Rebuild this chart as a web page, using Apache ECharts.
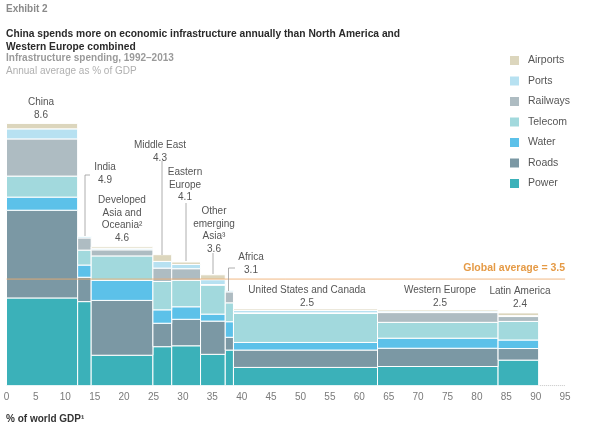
<!DOCTYPE html>
<html><head><meta charset="utf-8">
<script src="https://cdn.jsdelivr.net/npm/echarts@6/dist/echarts.min.js"></script>
<style>html,body{margin:0;padding:0;background:#fff}#c{width:600px;height:429px}</style>
</head><body><div id="c"></div>
<script>
// ---- data ----
const categories = ['China','India','Developed Asia and Oceania','Middle East','Eastern Europe','Other emerging Asia','Africa','United States and Canada','Western Europe','Latin America'];
const gdpShare = [12.1, 2.3, 10.5, 3.2, 4.9, 4.2, 1.4, 24.5, 20.5, 6.9];   // % of world GDP (bar widths)
const totals   = ['8.6','4.9','4.6','4.3','4.1','3.6','3.1','2.5','2.5','2.4'];
const sectors  = ['Power','Roads','Water','Telecom','Railways','Ports','Airports']; // bottom -> top
const power    = [2.88, 2.76, 1.00, 1.28, 1.31, 1.03, 1.17, 0.60, 0.63, 0.84];
const roads    = [2.88, 0.80, 1.80, 0.77, 0.87, 1.09, 0.42, 0.57, 0.60, 0.38];
const water    = [0.43, 0.40, 0.66, 0.44, 0.41, 0.23, 0.51, 0.25, 0.33, 0.28];
const telecom  = [0.69, 0.49, 0.80, 0.93, 0.87, 0.95, 0.62, 0.95, 0.52, 0.61];
const railways = [1.22, 0.40, 0.20, 0.44, 0.38, 0.02, 0.36, 0.02, 0.32, 0.16];
const ports    = [0.33, 0.05, 0.05, 0.22, 0.14, 0.16, 0.05, 0.08, 0.05, 0.03];
const airports = [0.18, 0.00, 0.05, 0.22, 0.08, 0.16, 0.00, 0.05, 0.05, 0.09];
const globalAverage = 3.5;
const xMax = 95, xStep = 5;

// ---- styles ----
const colors = {Power:'#3bb1b9', Roads:'#7b98a4', Water:'#5cc1e9', Telecom:'#a2d9dd', Railways:'#aebcc2', Ports:'#b7e1f1', Airports:'#dcd6bd'};
const FONT = 'Liberation Sans, Arial, sans-serif';
const values = {Power:power, Roads:roads, Water:water, Telecom:telecom, Railways:railways, Ports:ports, Airports:airports};

// cumulative x positions
const xStart = []; let acc = 0;
gdpShare.forEach(w => { xStart.push(acc); acc += w; });
const xEndAll = acc;

const base = categories.map(() => 0);
const series = sectors.map(s => {
  const data = categories.map((c, i) => {
    const y0 = base[i], y1 = y0 + values[s][i];
    base[i] = y1;
    return [xStart[i], xStart[i] + gdpShare[i], y0, y1, c];
  });
  return {
    name: s, type: 'custom', color: colors[s],
    encode: {x: [0, 1], y: [2, 3]},
    renderItem: (params, api) => {
      if (api.value(3) - api.value(2) <= 0) return null;
      const p0 = api.coord([api.value(0), api.value(3)]);
      const p1 = api.coord([api.value(1), api.value(2)]);
      return {type: 'rect', shape: {x: p0[0], y: p0[1], width: p1[0] - p0[0], height: p1[1] - p0[1]},
        style: {fill: colors[s], stroke: '#fff', lineWidth: 1}};
    },
    data
  };
});
// global average line
series.push({
  name: 'Global average', type: 'line', silent: true, z: 10, showSymbol: true, symbol: 'circle', symbolSize: 0,
  color: '#eeaa6c',
  lineStyle: {color: '#eeaa6c', width: 1, type: 'solid', opacity: 0.85},
  data: [[0, globalAverage], {value: [xMax, globalAverage],
    label: {show: true, position: 'top', align: 'right', distance: 5, formatter: 'Global average = ' + globalAverage,
      color: '#e59a45', fontSize: 10.5, fontWeight: 'bold', fontFamily: FONT}}]
});
// rest-of-world baseline stub
series.push({
  name: 'Rest', type: 'line', silent: true, z: 10, showSymbol: false, symbol: 'none',
  lineStyle: {color: '#bbb', width: 1, type: 'dotted'},
  data: [[xEndAll + 0.2, 0], [xMax, 0]]
});

// ---- annotations (text from arrays, layout in pixels) ----
const labelLayout = [
  {x: 41,  y: 96,  lines: ['China']},
  {x: 105, y: 161, lines: ['India']},
  {x: 122, y: 194, lines: ['Developed', 'Asia and', 'Oceania²']},
  {x: 160, y: 139, lines: ['Middle East']},
  {x: 185, y: 166, lines: ['Eastern', 'Europe']},
  {x: 214, y: 205, lines: ['Other', 'emerging', 'Asia³']},
  {x: 251, y: 251, lines: ['Africa']},
  {x: 307, y: 284, lines: ['United States and Canada']},
  {x: 440, y: 284, lines: ['Western Europe']},
  {x: 520, y: 285, lines: ['Latin America']}
];
const leaders = [
  [[90,175],[85,175],[85,236]],
  [[162,161],[162,255]],
  [[186,203],[186,261]],
  [[213,253],[213,274]],
  [[235,268],[228.5,268],[228.5,291]]
];
const graphics = [
  {type:'text', left: 6, top: 4, style:{text:'Exhibit 2', font:'bold 10px ' + FONT, fill:'#8a8a8a'}},
  {type:'text', left: 6, top: 28, style:{text:'China spends more on economic infrastructure annually than North America and\nWestern Europe combined', font:'bold 10.25px ' + FONT, fill:'#2a2a2a', lineHeight: 12.5}},
  {type:'text', left: 6, top: 53.5, style:{text:'Infrastructure spending, 1992–2013', font:'bold 10px ' + FONT, fill:'#9a9a9a'}},
  {type:'text', left: 6, top: 66, style:{text:'Annual average as % of GDP', font:'10px ' + FONT, fill:'#b0b0b0'}},
  {type:'text', left: 6, top: 414, style:{text:'% of world GDP¹', font:'bold 10px ' + FONT, fill:'#333'}}
];
labelLayout.forEach((l, i) => {
  graphics.push({type:'text', x: l.x, y: l.y, style:{text: l.lines.concat([totals[i]]).join('\n'),
    textAlign:'center', textVerticalAlign:'top', font:'10px ' + FONT, fill:'#555', lineHeight: 12.5}});
});
leaders.forEach(pts => graphics.push({type:'polyline', shape:{points: pts}, style:{stroke:'#999', lineWidth: 0.8, fill: null}, z: 20}));

const chart = echarts.init(document.getElementById('c'), null, {renderer: 'canvas'});
chart.setOption({
  animation: false,
  backgroundColor: '#fff',
  grid: {left: 6.5, right: 34.9, top: 111.5, bottom: 43.3},
  xAxis: {type: 'value', min: 0, max: xMax, interval: xStep,
    axisLine: {show: false}, axisTick: {show: false}, splitLine: {show: false},
    axisLabel: {color: '#7a7a7a', fontSize: 10, fontFamily: FONT, margin: 7}},
  yAxis: {type: 'value', min: 0, max: 9, show: false},
  legend: {orient: 'vertical', left: 505, top: 50, icon: 'rect', itemWidth: 9, itemHeight: 9, itemGap: 9.5,
    data: sectors.slice().reverse(),
    textStyle: {color: '#555', fontSize: 10.5, fontFamily: FONT, padding: [0,0,0,4]}},
  graphic: graphics,
  series
});
</script></body></html>
